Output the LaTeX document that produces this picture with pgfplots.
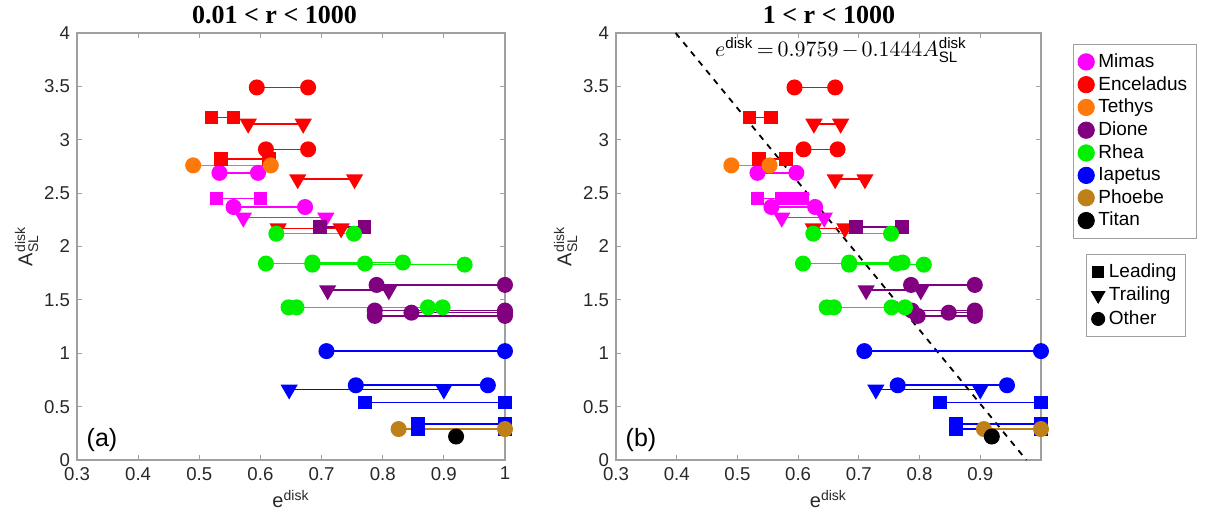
\documentclass[border=0pt]{standalone}
\usepackage{amsmath}
\usepackage{pgfplots}
\pgfplotsset{compat=1.18}
\usepackage{fontspec}
\setmainfont{Liberation Sans}
\newfontfamily\titlefont{Liberation Serif}

\definecolor{cMim}{RGB}{255,0,255}
\definecolor{cEnc}{RGB}{255,0,0}
\definecolor{cTet}{RGB}{255,120,10}
\definecolor{cDio}{RGB}{128,0,128}
\definecolor{cRhe}{RGB}{0,240,0}
\definecolor{cIap}{RGB}{0,0,255}
\definecolor{cPho}{RGB}{190,128,25}
\definecolor{cTit}{RGB}{0,0,0}
\definecolor{axgray}{RGB}{160,160,160}
\definecolor{txgray}{RGB}{40,40,40}
\newcommand\plabfont{\fontsize{12.5}{14}\selectfont}
\newcommand\eqfont{\fontsize{10.8}{13}\selectfont}

\pgfplotsset{
  myother/.style={forget plot, line width=0.8pt, mark=*, mark size=3.6pt, mark options={solid}},
  mylead/.style={forget plot, line width=0.8pt, mark=square*, mark size=3pt, mark options={solid}},
  mytrail/.style={forget plot, line width=0.8pt, mark=triangle*, mark size=4.2pt, mark options={solid, rotate=180}},
  mypanel/.style={
    scale only axis, height=213.5pt,
    xmin=0.3, xmax=1, ymin=0, ymax=4,
    ytick={0,0.5,1,1.5,2,2.5,3,3.5,4},
    yticklabels={0,0.5,1,1.5,2,2.5,3,3.5,4},
    tick align=inside, major tick length=2.5pt,
    axis line style={color=axgray, line width=0.6pt},
    tick style={color=axgray, line width=0.6pt},
    clip=false,
    tick label style={font=\fontsize{9.3}{10}\selectfont, color=txgray},
    xlabel={e$^{\mathrm{disk}}$},
    ylabel={A$^{\mathrm{disk}}_{\mathrm{SL}}$},
    label style={font=\fontsize{10}{12}\selectfont, color=txgray},
    xlabel style={yshift=2pt},
    ylabel style={yshift=-4pt},
  },
}

\begin{document}
\begin{tikzpicture}
\path[use as bounding box] (0pt,0pt) rectangle (606pt,257pt);

% ---------------- panel (a) ----------------
\begin{axis}[mypanel, width=214pt, at={(38.5pt,27pt)}, anchor=south west,
  xtick={0.3,0.4,0.5,0.6,0.7,0.8,0.9,1},
  xticklabels={0.3,0.4,0.5,0.6,0.7,0.8,0.9,1}]
% Mimas
\addplot[myother, color=cMim] coordinates {(0.533,2.69) (0.596,2.69)};
\addplot[mylead, color=cMim] coordinates {(0.528,2.45) (0.600,2.45)};
\addplot[myother, color=cMim] coordinates {(0.556,2.37) (0.673,2.37)};
\addplot[mytrail, color=cMim] coordinates {(0.572,2.27) (0.707,2.27)};
% Enceladus
\addplot[myother, color=cEnc] coordinates {(0.594,3.49) (0.678,3.49)};
\addplot[mylead, color=cEnc] coordinates {(0.520,3.21) (0.556,3.21)};
\addplot[mytrail, color=cEnc] coordinates {(0.580,3.15) (0.670,3.15)};
\addplot[myother, color=cEnc] coordinates {(0.609,2.91) (0.678,2.91)};
\addplot[mylead, color=cEnc] coordinates {(0.536,2.82) (0.614,2.82)};
\addplot[mytrail, color=cEnc] coordinates {(0.661,2.63) (0.754,2.63)};
\addplot[mytrail, color=cEnc] coordinates {(0.629,2.17) (0.732,2.17)};
% Tethys
\addplot[myother, color=cTet] coordinates {(0.490,2.76) (0.617,2.76)};
% Dione
\addplot[mylead, color=cDio] coordinates {(0.697,2.18) (0.770,2.18)};
\addplot[myother, color=cDio] coordinates {(0.790,1.64) (1.000,1.64)};
\addplot[mytrail, color=cDio] coordinates {(0.710,1.59) (0.810,1.59)};
\addplot[myother, color=cDio] coordinates {(0.787,1.40) (1.000,1.40)};
\addplot[myother, color=cDio] coordinates {(0.847,1.38) (1.000,1.38)};
\addplot[myother, color=cDio] coordinates {(0.787,1.35) (1.000,1.35)};
% Rhea
\addplot[myother, color=cRhe] coordinates {(0.626,2.12) (0.753,2.12)};
\addplot[myother, color=cRhe] coordinates {(0.609,1.84) (0.771,1.84)};
\addplot[myother, color=cRhe] coordinates {(0.685,1.85) (0.833,1.85)};
\addplot[myother, color=cRhe] coordinates {(0.685,1.83) (0.934,1.83)};
\addplot[myother, color=cRhe] coordinates {(0.646,1.43) (0.874,1.43)};
\addplot[myother, color=cRhe] coordinates {(0.659,1.43) (0.898,1.43)};
% Iapetus
\addplot[myother, color=cIap] coordinates {(0.708,1.02) (1.000,1.02)};
\addplot[myother, color=cIap] coordinates {(0.756,0.70) (0.972,0.70)};
\addplot[mytrail, color=cIap] coordinates {(0.647,0.66) (0.900,0.66)};
\addplot[mylead, color=cIap] coordinates {(0.771,0.54) (1.000,0.54)};
\addplot[mylead, color=cIap] coordinates {(0.858,0.34) (1.000,0.34)};
\addplot[mylead, color=cIap] coordinates {(0.858,0.29) (1.000,0.29)};
% Phoebe
\addplot[myother, color=cPho] coordinates {(0.826,0.29) (1.000,0.29)};
% Titan
\addplot[myother, color=cTit, only marks] coordinates {(0.920,0.22)};
\end{axis}

% ---------------- panel (b) ----------------
\begin{axis}[mypanel, width=212.5pt, at={(308pt,27pt)}, anchor=south west,
  xtick={0.3,0.4,0.5,0.6,0.7,0.8,0.9},
  xticklabels={0.3,0.4,0.5,0.6,0.7,0.8,0.9},
  legend style={at={(1.0744,0.974)}, anchor=north west, draw=axgray,
    font=\fontsize{9.5}{11}\selectfont, row sep=-1pt, inner sep=2.5pt},
  legend cell align=left]
% fit line
\addplot[forget plot, color=black, dashed, line width=0.9pt] coordinates {(0.3983,4) (0.9759,0)};
% Mimas
\addplot[myother, color=cMim] coordinates {(0.533,2.69) (0.597,2.69)};
\addplot[mylead, color=cMim] coordinates {(0.533,2.45) (0.591,2.45)};
\addplot[mylead, color=cMim] coordinates {(0.573,2.45) (0.607,2.45)};
\addplot[myother, color=cMim] coordinates {(0.556,2.37) (0.628,2.37)};
\addplot[mytrail, color=cMim] coordinates {(0.573,2.27) (0.643,2.27)};
% Enceladus
\addplot[myother, color=cEnc] coordinates {(0.594,3.49) (0.661,3.49)};
\addplot[mylead, color=cEnc] coordinates {(0.520,3.21) (0.555,3.21)};
\addplot[mytrail, color=cEnc] coordinates {(0.626,3.15) (0.670,3.15)};
\addplot[myother, color=cEnc] coordinates {(0.609,2.91) (0.665,2.91)};
\addplot[mylead, color=cEnc] coordinates {(0.536,2.82) (0.580,2.82)};
\addplot[mytrail, color=cEnc] coordinates {(0.661,2.63) (0.710,2.63)};
\addplot[mytrail, color=cEnc] coordinates {(0.625,2.17) (0.677,2.17)};
% Tethys
\addplot[myother, color=cTet] coordinates {(0.490,2.76) (0.553,2.76)};
% Dione
\addplot[mylead, color=cDio] coordinates {(0.695,2.18) (0.771,2.18)};
\addplot[myother, color=cDio] coordinates {(0.786,1.64) (0.891,1.64)};
\addplot[mytrail, color=cDio] coordinates {(0.712,1.59) (0.802,1.59)};
\addplot[myother, color=cDio] coordinates {(0.787,1.40) (0.891,1.40)};
\addplot[myother, color=cDio] coordinates {(0.848,1.38) (0.891,1.38)};
\addplot[myother, color=cDio] coordinates {(0.797,1.35) (0.891,1.35)};
% Rhea
\addplot[myother, color=cRhe] coordinates {(0.625,2.12) (0.753,2.12)};
\addplot[myother, color=cRhe] coordinates {(0.608,1.84) (0.762,1.84)};
\addplot[myother, color=cRhe] coordinates {(0.684,1.85) (0.772,1.85)};
\addplot[myother, color=cRhe] coordinates {(0.684,1.83) (0.807,1.83)};
\addplot[myother, color=cRhe] coordinates {(0.647,1.43) (0.754,1.43)};
\addplot[myother, color=cRhe] coordinates {(0.659,1.43) (0.776,1.43)};
% Iapetus
\addplot[myother, color=cIap] coordinates {(0.709,1.02) (1.000,1.02)};
\addplot[myother, color=cIap] coordinates {(0.764,0.70) (0.944,0.70)};
\addplot[mytrail, color=cIap] coordinates {(0.728,0.66) (0.900,0.66)};
\addplot[mylead, color=cIap] coordinates {(0.834,0.54) (1.000,0.54)};
\addplot[mylead, color=cIap] coordinates {(0.860,0.34) (1.000,0.34)};
\addplot[mylead, color=cIap] coordinates {(0.860,0.29) (1.000,0.29)};
% Phoebe
\addplot[myother, color=cPho] coordinates {(0.906,0.29) (1.000,0.29)};
% Titan
\addplot[myother, color=cTit, only marks] coordinates {(0.919,0.22)};
% legend 1
\addlegendimage{only marks, mark=*, mark size=4.1pt, color=cMim}\addlegendentry{Mimas}
\addlegendimage{only marks, mark=*, mark size=4.1pt, color=cEnc}\addlegendentry{Enceladus}
\addlegendimage{only marks, mark=*, mark size=4.1pt, color=cTet}\addlegendentry{Tethys}
\addlegendimage{only marks, mark=*, mark size=4.1pt, color=cDio}\addlegendentry{Dione}
\addlegendimage{only marks, mark=*, mark size=4.1pt, color=cRhe}\addlegendentry{Rhea}
\addlegendimage{only marks, mark=*, mark size=4.1pt, color=cIap}\addlegendentry{Iapetus}
\addlegendimage{only marks, mark=*, mark size=4.1pt, color=cPho}\addlegendentry{Phoebe}
\addlegendimage{only marks, mark=*, mark size=4.1pt, color=cTit}\addlegendentry{Titan}
\end{axis}

% ---------------- legend 2 ----------------
\begin{axis}[hide axis, scale only axis, width=212.5pt, height=213.5pt,
  at={(308pt,27pt)}, anchor=south west,
  xmin=0, xmax=1, ymin=0, ymax=1,
  legend style={at={(1.1059,0.4824)}, anchor=north west, draw=axgray,
    font=\fontsize{9.5}{11}\selectfont, row sep=-0.6pt, inner sep=2.5pt},
  legend cell align=left]
\addlegendimage{only marks, mark=square*, mark size=2.8pt, color=black}\addlegendentry{Leading}
\addlegendimage{only marks, mark=triangle*, mark size=3.9pt, color=black, mark options={rotate=180}}\addlegendentry{Trailing}
\addlegendimage{only marks, mark=*, mark size=3.3pt, color=black}\addlegendentry{Other}
\end{axis}

% text labels
\node[font=\plabfont, text=black] at (51pt,37pt) {(a)};
\node[font=\plabfont, text=black] at (320.5pt,37pt) {(b)};
\node[font=\titlefont\bfseries\fontsize{13}{15}\selectfont] at (137.25pt,249.5pt) {0.01 < r < 1000};
\node[font=\titlefont\bfseries\fontsize{13}{15}\selectfont] at (414.5pt,249.5pt) {1 < r < 1000};
\node[font=\eqfont] at (420.5pt,232pt)
  {$\thickmuskip=3mu\relax\medmuskip=2.5mu\relax e^{\mathrm{disk}} = 0.9759 - 0.1444A_{\mathrm{SL}}^{\mathrm{disk}}$};
\end{tikzpicture}
\end{document}
